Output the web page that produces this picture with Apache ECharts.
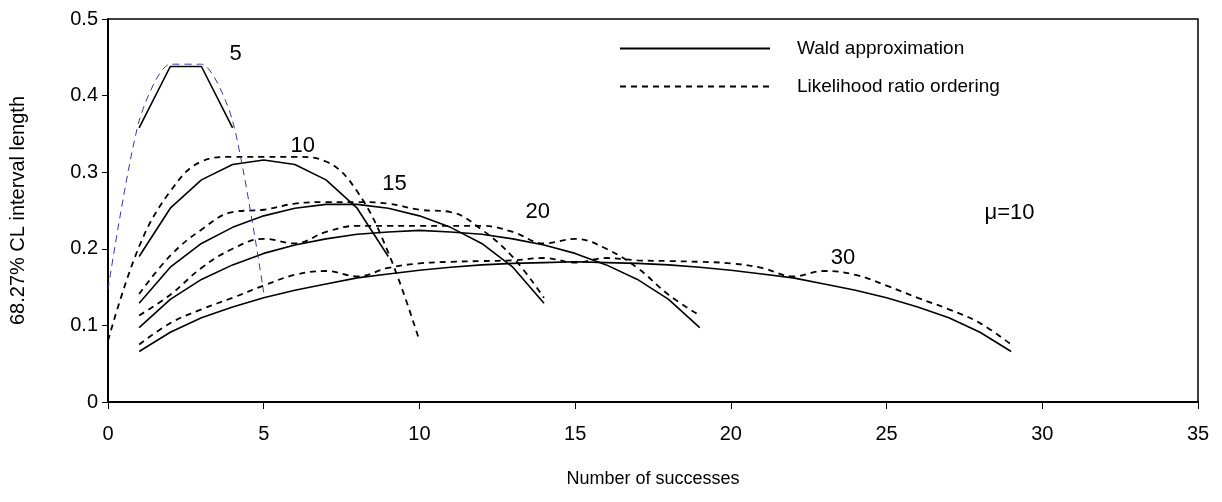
<!DOCTYPE html>
<html>
<head>
<meta charset="utf-8">
<script src="https://cdn.jsdelivr.net/npm/echarts@6/dist/echarts.min.js"></script>
<style>
  html, body { margin: 0; padding: 0; background: #fff; }
  #chart { width: 1222px; height: 502px; }
</style>
</head>
<body>
<div id="chart"></div>
<script>
// ---- Data ----
// Wald approximation curves, successes k and interval lengths
const k5 = [1, 2, 3, 4];
const wald5 = [0.358, 0.438, 0.438, 0.358];
const k10 = [1, 2, 3, 4, 5, 6, 7, 8, 9];
const wald10 = [0.190, 0.253, 0.290, 0.310, 0.316, 0.310, 0.290, 0.253, 0.190];
const k15 = [1, 2, 3, 4, 5, 6, 7, 8, 9, 10, 11, 12, 13, 14];
const wald15 = [0.129, 0.176, 0.207, 0.228, 0.243, 0.253, 0.258, 0.258, 0.253, 0.243, 0.228, 0.207, 0.176, 0.129];
const k20 = [1, 2, 3, 4, 5, 6, 7, 8, 9, 10, 11, 12, 13, 14, 15, 16, 17, 18, 19];
const wald20 = [0.097, 0.134, 0.160, 0.179, 0.194, 0.205, 0.213, 0.219, 0.222, 0.224, 0.222, 0.219, 0.213, 0.205, 0.194, 0.179, 0.160, 0.134, 0.097];
const k30 = [1, 2, 3, 4, 5, 6, 7, 8, 9, 10, 11, 12, 13, 14, 15, 16, 17, 18, 19, 20, 21, 22, 23, 24, 25, 26, 27, 28, 29];
const wald30 = [0.066, 0.091, 0.110, 0.124, 0.136, 0.146, 0.154, 0.162, 0.167, 0.172, 0.176, 0.179, 0.181, 0.182, 0.183, 0.182, 0.181, 0.179, 0.176, 0.172, 0.167, 0.162, 0.154, 0.146, 0.136, 0.124, 0.110, 0.091, 0.066];

// Likelihood ratio ordering curves
const lrK5 = [0, 1, 2, 3, 4, 5];
const lr5 = [0.147, 0.367, 0.441, 0.441, 0.367, 0.143];
const lrK10 = [0, 1, 2, 3, 4, 5, 6, 7, 8, 9, 10];
const lr10 = [0.080, 0.203, 0.275, 0.314, 0.320, 0.320, 0.320, 0.314, 0.275, 0.195, 0.080];
const lrK15 = [1, 2, 3, 4, 5, 6, 7, 8, 9, 10, 11, 12, 13, 14];
const lr15 = [0.141, 0.191, 0.225, 0.248, 0.251, 0.259, 0.261, 0.261, 0.259, 0.251, 0.248, 0.225, 0.189, 0.136];
const lrK20 = [1, 2, 3, 4, 5, 6, 7, 8, 9, 10, 11, 12, 13, 14, 15, 16, 17, 18, 19];
const lr20 = [0.113, 0.140, 0.175, 0.200, 0.213, 0.207, 0.222, 0.230, 0.230, 0.230, 0.230, 0.230, 0.222, 0.207, 0.213, 0.200, 0.175, 0.140, 0.113];
const lrK30 = [1, 2, 3, 4, 5, 6, 7, 8, 9, 10, 11, 12, 13, 14, 15, 16, 17, 18, 19, 20, 21, 22, 23, 24, 25, 26, 27, 28, 29];
const lr30 = [0.075, 0.103, 0.121, 0.136, 0.152, 0.166, 0.171, 0.164, 0.175, 0.181, 0.183, 0.184, 0.185, 0.188, 0.182, 0.188, 0.185, 0.184, 0.183, 0.181, 0.175, 0.164, 0.171, 0.166, 0.152, 0.136, 0.121, 0.103, 0.075];

// Curve annotations (sample size n) and the mu note
const noteX = [4.1, 6.25, 9.2, 13.8, 23.6, 28.95];
const noteY = [0.454, 0.334, 0.285, 0.248, 0.188, 0.247];
const noteText = ['5', '10', '15', '20', '30', 'μ=10'];

// Axis ticks
const xTicks = [0, 5, 10, 15, 20, 25, 30, 35];
const yTicks = [0, 0.1, 0.2, 0.3, 0.4, 0.5];

// ---- Chart ----
const FONT = "'Liberation Sans', Arial, sans-serif";
const zip = (xs, ys) => xs.map((x, i) => [x, ys[i]]);

const waldStyle = { color: '#000', width: 1.6, type: 'solid' };
const lrStyle = { color: '#000', width: 1.8, type: [6, 5] };
const lr5Style = { color: '#3a3a9c', width: 1, type: [7, 5] };

function lineSeries(name, xs, ys, style, smooth) {
  return {
    name: name,
    type: 'line',
    data: zip(xs, ys),
    showSymbol: false,
    symbol: 'none',
    smooth: smooth,
    lineStyle: style,
    itemStyle: { color: style.color },
    emphasis: { disabled: true },
    animation: false,
    z: 3
  };
}

const WALD = 'Wald approximation';
const LR = 'Likelihood ratio ordering';

const series = [
  lineSeries(WALD, k10, wald10, waldStyle, false),
  lineSeries(WALD, k5, wald5, waldStyle, false),
  lineSeries(WALD, k15, wald15, waldStyle, false),
  lineSeries(WALD, k20, wald20, waldStyle, false),
  lineSeries(WALD, k30, wald30, waldStyle, false),
  lineSeries(LR, lrK10, lr10, lrStyle, 0.4),
  lineSeries(LR, lrK15, lr15, lrStyle, 0.4),
  lineSeries(LR, lrK20, lr20, lrStyle, 0.4),
  lineSeries(LR, lrK30, lr30, lrStyle, 0.4),
  lineSeries('LR n=5', lrK5, lr5, lr5Style, 0.25),
  {
    name: 'notes',
    type: 'scatter',
    symbolSize: 0,
    itemStyle: { opacity: 1 },
    data: noteX.map((x, i) => ({ value: [x, noteY[i]], name: noteText[i] })),
    label: {
      show: true,
      position: 'inside',
      formatter: p => p.name,
      color: '#000',
      opacity: 1,
      fontFamily: FONT,
      fontSize: 22
    },
    emphasis: { disabled: true },
    silent: true,
    animation: false,
    z: 5
  }
];

const chart = echarts.init(document.getElementById('chart'), null, { renderer: 'canvas' });
chart.setOption({
  backgroundColor: '#fff',
  animation: false,
  textStyle: { fontFamily: FONT },
  grid: {
    left: 108, right: 24, top: 19, bottom: 100,
    show: true, borderColor: '#000', borderWidth: 1.5,
    outerBoundsMode: 'none'
  },
  legend: {
    data: [WALD, LR],
    orient: 'vertical',
    left: 614,
    top: 34,
    itemWidth: 150,
    itemHeight: 16,
    itemGap: 19,
    selectedMode: false,
    itemStyle: { opacity: 0 },
    textStyle: { fontFamily: FONT, fontSize: 19, color: '#000', padding: [0, 0, 0, 22] }
  },
  xAxis: {
    type: 'value',
    min: 0, max: 35, interval: 5,
    name: 'Number of successes',
    nameLocation: 'middle',
    nameGap: 68,
    nameTextStyle: { fontFamily: FONT, fontSize: 18, color: '#000' },
    axisLine: { show: true, onZero: false, lineStyle: { color: '#000', width: 2 } },
    axisTick: { show: true, inside: false, length: 7, lineStyle: { color: '#000', width: 1 } },
    axisLabel: {
      fontFamily: FONT, fontSize: 20, color: '#000', margin: 22,
      customValues: xTicks
    },
    splitLine: { show: false }
  },
  yAxis: {
    type: 'value',
    min: 0, max: 0.5, interval: 0.1,
    name: '68.27% CL interval length',
    nameLocation: 'middle',
    nameGap: 80,
    nameRotate: 90,
    nameTextStyle: { fontFamily: FONT, fontSize: 20, color: '#000' },
    axisLine: { show: true, onZero: false, lineStyle: { color: '#000', width: 2 } },
    axisTick: { show: true, inside: false, length: 6, lineStyle: { color: '#000', width: 1 } },
    axisLabel: {
      fontFamily: FONT, fontSize: 20, color: '#000', margin: 10,
      customValues: yTicks,
      formatter: v => String(Math.round(v * 10) / 10)
    },
    splitLine: { show: false }
  },
  series: series
});
</script>
</body>
</html>
